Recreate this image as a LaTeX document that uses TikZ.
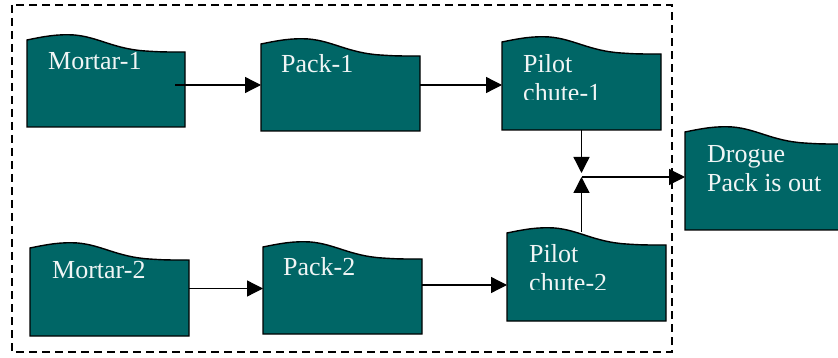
\documentclass[tikz,border=0pt]{standalone}
\usepackage{fontspec}
\setmainfont{Liberation Serif}
\usetikzlibrary{arrows.meta}
\definecolor{boxfill}{RGB}{0,102,102}
\definecolor{boxtext}{RGB}{240,245,245}
\tikzset{
  arr/.style={line width=1.3pt,-{Triangle[length=16pt,width=16pt]}},
  wave/.style={fill=boxfill,draw=black,line width=1.4pt},
  lbl/.style={text=boxtext,font=\fontsize{26}{29}\selectfont,anchor=base west,inner sep=0pt},
  frame/.style={line width=1.4pt,dash pattern=on 8pt off 5pt}
}
\newcommand{\wbox}[5]{%
  \draw[wave] (#2,#3+5) .. controls ({#2+0.12*(#4-#2)},#3+1) and ({#2+0.2*(#4-#2)},#3-1) .. ({#2+0.3*(#4-#2)},#3)
    .. controls ({#2+0.45*(#4-#2)},#3+2) and ({#2+0.55*(#4-#2)},#3+14) .. ({#2+0.75*(#4-#2)},#3+16)
    .. controls ({#2+0.85*(#4-#2)},#3+17) .. (#4,#3+17) -- (#4,#5) -- (#2,#5) -- cycle;
  \node[inner sep=0pt,outer sep=0pt,minimum width={(#4-#2)*1pt},minimum height={(#5-#3)*1pt},anchor=north west] (#1) at (#2,#3) {};
}
\begin{document}
\begin{tikzpicture}[x=1pt,y=-1pt]
\useasboundingbox (0,0) rectangle (838,358);
\draw[frame] (12,5) rectangle (672,352);
\wbox{m1}{27}{35}{185}{127}
\wbox{p1}{261}{39}{420}{131}
\wbox{c1}{502}{37}{661}{130}
\wbox{m2}{30}{243}{189}{336}
\wbox{p2}{263}{242}{422}{334}
\wbox{c2}{507}{228}{666}{321}
\wbox{d}{685}{127}{844}{230}
\node[lbl] (t1) at (48,70) {Mortar-1};
\node[lbl] (t2) at (281,73) {Pack-1};
\node[lbl] (t3) at (523,73) {Pilot};
\begin{scope}
\clip (502,80) rectangle (661,100);
\node[lbl] (t4) at (523,102) {chute-1};
\end{scope}
\node[lbl] (t5) at (52,278) {Mortar-2};
\node[lbl] (t6) at (283,275) {Pack-2};
\node[lbl] (t7) at (529,262) {Pilot};
\begin{scope}
\clip (507,268) rectangle (666,289);
\node[lbl] (t8) at (529,291) {chute-2};
\end{scope}
\node[lbl] (t9) at (707,163) {Drogue};
\node[lbl] (t10) at (707,192) {Pack is out};
\coordinate (jt) at (581.5,173);
\coordinate (jb) at (581.5,177);
\draw[arr] ([xshift=-10pt,yshift=-4pt]m1.east) -- ([yshift=-4pt]m1.east -| p1.west);
\draw[arr] (p1.east) -- (p1.east -| c1.west);
\draw[arr] ([yshift=1pt]m2.east) -- ([yshift=1pt]m2.east -| p2.west);
\draw[arr] ([yshift=3pt]p2.east) -- ([yshift=3pt]p2.east -| c2.west);
\draw[arr] (c1.south) -- (jt);
\draw[arr] ([yshift=-4pt]c2.north -| jb) -- (jb);
\draw[arr] (jb) -- (jb -| d.west);
\end{tikzpicture}
\end{document}
